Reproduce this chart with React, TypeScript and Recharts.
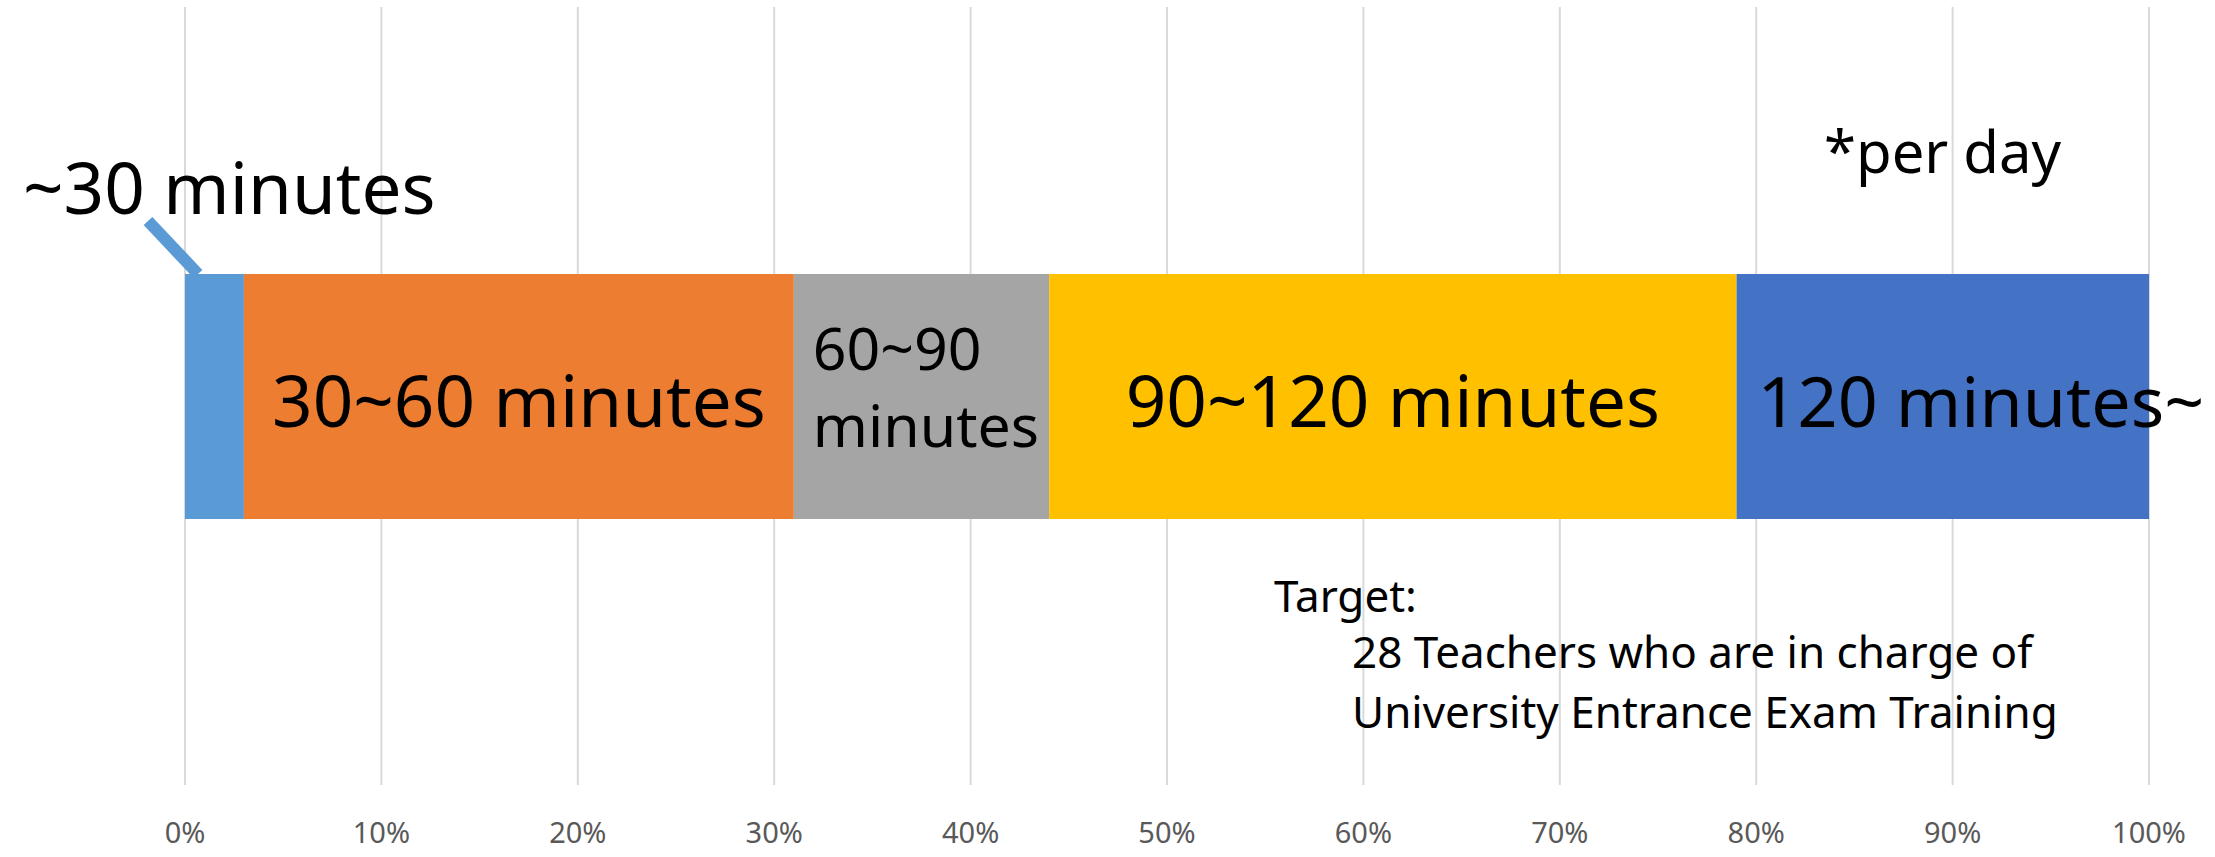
import { BarChart, Bar, XAxis, YAxis, CartesianGrid } from 'recharts';

const categories = ['Teachers'];

const segmentKeys = ['upTo30', 'from30to60', 'from60to90', 'from90to120', 'over120'];
const segmentValues = [0.03, 0.28, 0.13, 0.35, 0.21];
const segmentColors = ['#5B9BD5', '#ED7D31', '#A5A5A5', '#FFC000', '#4472C4'];
const segmentLabels = [
  ['~30 minutes'],
  ['30~60 minutes'],
  ['60~90', 'minutes'],
  ['90~120 minutes'],
  ['120 minutes~'],
];

const ticks = [0, 0.1, 0.2, 0.3, 0.4, 0.5, 0.6, 0.7, 0.8, 0.9, 1];
const tickLabels = ['0%', '10%', '20%', '30%', '40%', '50%', '60%', '70%', '80%', '90%', '100%'];

const noteText = '*per day';
const targetLines = ['Target:', '28 Teachers who are in charge of', 'University Entrance Exam Training'];

const FONT = '"Noto Sans", "Open Sans", sans-serif';

const chartData = categories.map((name) => {
  const row: Record<string, string | number> = { name };
  segmentKeys.forEach((key, i) => {
    row[key] = segmentValues[i];
  });
  return row;
});

function renderSegmentLabel(props: any, index: number) {
  const { x, y, width, height } = props;
  const lines = segmentLabels[index];

  if (index === 0) {
    // callout above the thin first segment
    return (
      <g>
        <line x1={x - 37} y1={y - 53} x2={x + 13} y2={y} stroke={segmentColors[0]} strokeWidth={12} />
        <text x={x - 162} y={y - 60} fontSize={71} fill="#000" fontFamily={FONT}>
          {lines[0]}
        </text>
      </g>
    );
  }

  if (index === 2) {
    return (
      <text x={x + 19} y={y + 96} fontSize={59} fill="#000" fontFamily={FONT}>
        <tspan x={x + 19}>{lines[0]}</tspan>
        <tspan x={x + 19} dy={77}>{lines[1]}</tspan>
      </text>
    );
  }

  if (index === 4) {
    return (
      <text x={x + 21} y={y + height / 2 + 30} fontSize={70} fill="#000" fontFamily={FONT}>
        {lines[0]}
      </text>
    );
  }

  return (
    <text
      x={x + width / 2}
      y={y + height / 2 + 30}
      fontSize={71}
      fill="#000"
      textAnchor="middle"
      fontFamily={FONT}
    >
      {lines[0]}
    </text>
  );
}

function PercentTick(props: any) {
  const { x, y, payload } = props;
  const i = ticks.indexOf(payload.value);
  return (
    <text x={x} y={y + 58} textAnchor="middle" fontSize={29} fill="#595959" fontFamily={FONT}>
      {tickLabels[i] ?? ''}
    </text>
  );
}

export default function App() {
  return (
    <div style={{ position: 'absolute', left: 0, top: 0, width: 2215, height: 857, background: '#fff' }}>
      <BarChart
        width={2215}
        height={857}
        data={chartData}
        layout="vertical"
        margin={{ top: 7, right: 66, bottom: 12, left: 185 }}
        barCategoryGap={0}
        style={{ fontFamily: FONT }}
      >
        <CartesianGrid horizontal={false} vertical stroke="#D9D9D9" strokeWidth={2} />
        <XAxis
          type="number"
          domain={[0, 1]}
          ticks={ticks}
          axisLine={false}
          tickLine={false}
          tickSize={0}
          tickMargin={0}
          height={60}
          interval={0}
          tick={<PercentTick />}
        />
        <YAxis type="category" dataKey="name" hide />
        {segmentKeys.map((key, i) => (
          <Bar
            key={key}
            dataKey={key}
            stackId="time"
            fill={segmentColors[i]}
            barSize={245}
            isAnimationActive={false}
            label={(props: any) => renderSegmentLabel(props, i)}
          />
        ))}
      </BarChart>
      <svg
        width={2215}
        height={857}
        style={{ position: 'absolute', left: 0, top: 0, pointerEvents: 'none', fontFamily: FONT }}
      >
        <text x={1824} y={173} fontSize={58} fill="#000">
          {noteText}
        </text>
        <text x={1274} y={612} fontSize={44} fill="#000">
          {targetLines[0]}
        </text>
        <text x={1352} y={668} fontSize={44} fill="#000">
          {targetLines[1]}
        </text>
        <text x={1352} y={728} fontSize={44} fill="#000">
          {targetLines[2]}
        </text>
      </svg>
    </div>
  );
}
